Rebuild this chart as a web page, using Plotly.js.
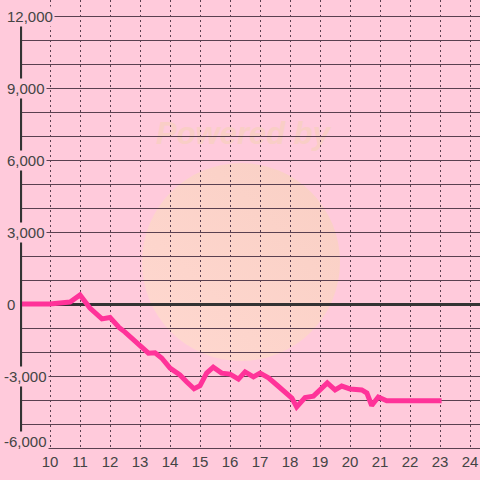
<!DOCTYPE html>
<html>
<head>
<meta charset="utf-8">
<script src="https://cdn.plot.ly/plotly-3.0.1.min.js"></script>
<style>
html,body{margin:0;padding:0;background:#ffcadb;}
#chart{width:480px;height:480px;}
</style>
</head>
<body>
<div id="chart"></div>
<script>
// data (x in hours, y values)
var hours = [9.0, 10.0, 10.67, 11.0, 11.33, 11.73, 12.0, 12.3, 12.5, 12.78, 13.06, 13.28, 13.5, 13.72, 14.0, 14.33, 14.56, 14.8, 15.0, 15.22, 15.44, 15.72, 16.0, 16.28, 16.5, 16.78, 17.0, 17.28, 17.56, 17.89, 18.06, 18.22, 18.5, 18.78, 19.0, 19.24, 19.5, 19.72, 20.0, 20.39, 20.56, 20.72, 20.94, 21.22, 23.05];
var values = [0, 0, 80, 380, -170, -620, -560, -980, -1170, -1500, -1790, -2050, -2030, -2250, -2670, -2960, -3250, -3530, -3400, -2880, -2630, -2880, -2920, -3130, -2830, -3040, -2880, -3080, -3375, -3710, -3920, -4290, -3900, -3840, -3580, -3290, -3580, -3420, -3540, -3580, -3710, -4230, -3875, -4030, -4030];
var xTicks = [10, 11, 12, 13, 14, 15, 16, 17, 18, 19, 20, 21, 22, 23, 24];
var yTickVals = [12000, 9000, 6000, 3000, 0, -3000, -6000];
var yTickText = ["12,000", "9,000", "6,000", "3,000", "0", "-3,000", "-6,000"];

var bg = '#ffcadb';
var gridColor = '#5a4050';

var annotations = yTickVals.map(function (v, i) {
  return {
    xref: 'paper', yref: 'y', x: 0, y: v,
    xanchor: 'left', yanchor: 'middle',
    xshift: v < 0 ? -18 : -15,
    yshift: v === -6000 ? 7 : 0,
    text: yTickText[i], showarrow: false,
    bgcolor: bg, borderpad: 1,
    font: {family: 'Liberation Sans, Arial, sans-serif', size: 15, color: '#444444'}
  };
});

var wm = '<svg xmlns="http://www.w3.org/2000/svg" width="480" height="480">' +
  '<defs><linearGradient id="g" x1="0" y1="1" x2="1" y2="0">' +
  '<stop offset="0" stop-color="#ffd8d0"/><stop offset="1" stop-color="#f9cfc4"/></linearGradient></defs>' +
  '<circle cx="241" cy="262" r="99" fill="url(#g)"/>' +
  '<text x="243" y="144" text-anchor="middle" font-family="Liberation Sans, Arial" font-weight="bold" font-style="italic" font-size="31" fill="#f9cec6">Powered by</text>' +
  '</svg>';

var trace = {
  x: hours, y: values, type: 'scatter', mode: 'lines',
  line: {color: '#ff3399', width: 5},
  hoverinfo: 'skip'
};

var layout = {
  width: 480, height: 480,
  margin: {l: 20, r: 0, t: 0, b: 32},
  paper_bgcolor: bg, plot_bgcolor: bg,
  showlegend: false,
  xaxis: {
    range: [9, 24.33], tickvals: xTicks, ticktext: xTicks.map(String),
    showgrid: true, gridcolor: gridColor, gridwidth: 1, griddash: '2px,3px',
    zeroline: false, showline: true, linecolor: gridColor, linewidth: 1,
    ticks: '', fixedrange: true,
    tickfont: {family: 'Liberation Sans, Arial, sans-serif', size: 15, color: '#444444'}
  },
  yaxis: {
    range: [-6000, 12667], dtick: 1000, tick0: 0,
    showgrid: true, gridcolor: gridColor, gridwidth: 1,
    showticklabels: false, ticks: '',
    zeroline: true, zerolinecolor: '#333333', zerolinewidth: 3,
    showline: false, fixedrange: true
  },
  shapes: [
    {type: 'line', xref: 'x', yref: 'y', x0: 9.02, x1: 9.02, y0: -6000, y1: 12000,
     line: {color: '#333333', width: 3}, layer: 'above'}
  ],
  images: [
    {source: 'data:image/svg+xml;charset=utf-8,' + encodeURIComponent(wm),
     xref: 'paper', yref: 'paper', x: -20/460, y: 1, sizex: 480/460, sizey: 480/448,
     xanchor: 'left', yanchor: 'top', sizing: 'stretch', layer: 'below'}
  ],
  annotations: annotations
};

Plotly.newPlot('chart', [trace], layout, {displayModeBar: false, staticPlot: true});
</script>
</body>
</html>
